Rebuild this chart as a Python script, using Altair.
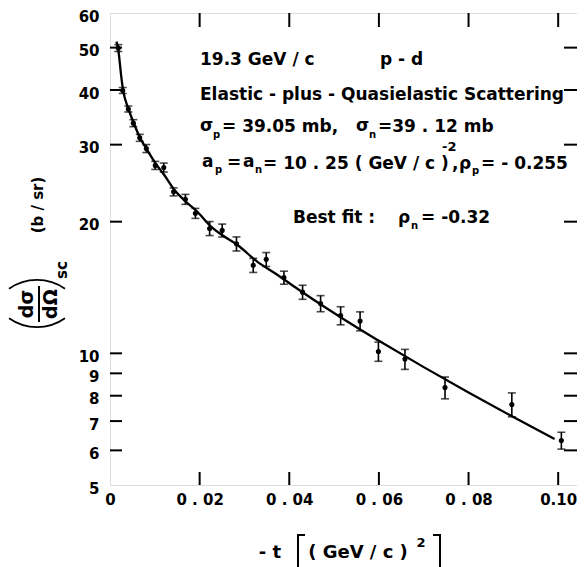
import altair as alt
import pandas as pd

# ---------------- data ----------------
t_data = [0.00185, 0.00284, 0.00409, 0.00521, 0.00664, 0.00811, 0.01010, 0.01200,
          0.01419, 0.01682, 0.01906, 0.02223, 0.02503, 0.02822, 0.03196, 0.03486,
          0.03881, 0.04297, 0.04699, 0.05146, 0.05580, 0.05989, 0.06581, 0.07475,
          0.08966, 0.10071]
xs_data = [49.9, 39.9, 36.2, 33.6, 31.1, 29.4, 26.9, 26.6, 23.4, 22.5, 20.9, 19.3,
           19.1, 17.8, 15.9, 16.4, 14.9, 13.8, 13.0, 12.2, 11.85, 10.1, 9.7, 8.35,
           7.64, 6.32]
err_data = [0.9, 0.63, 0.57, 0.62, 0.57, 0.62, 0.57, 0.63, 0.49, 0.59, 0.55, 0.71,
            0.65, 0.66, 0.59, 0.60, 0.51, 0.51, 0.55, 0.58, 0.59, 0.51, 0.51, 0.48,
            0.48, 0.28]

fit_t = [0.00145, 0.0019, 0.00246, 0.0029, 0.00402, 0.00536, 0.0067, 0.00827,
         0.01006, 0.01207, 0.0143, 0.01676, 0.01944, 0.02235, 0.02525, 0.02838,
         0.03285, 0.03732, 0.0418, 0.0485, 0.0559, 0.0600, 0.0700, 0.0800,
         0.0900, 0.0992]
fit_y = [51.6, 49.0, 43.4, 40.1, 36.45, 33.5, 31.1, 29.2, 27.3, 25.6, 23.7, 22.3,
         21.1, 19.57, 18.57, 17.71, 16.2, 15.12, 14.05, 12.64, 11.32, 10.68, 9.30,
         8.14, 7.15, 6.37]

x_tick_values = [0.0, 0.02, 0.04, 0.06, 0.08, 0.10]
y_tick_values = [5, 6, 7, 8, 9, 10, 20, 30, 40, 50, 60]
x_inner_ticks = [0.02, 0.04, 0.06, 0.08, 0.10]
y_inner_ticks = [6, 7, 8, 9, 10, 20, 30, 40, 50]

# ---------------- layout ----------------
W, H = 467, 472
PADL, PADT = 102, 5
OX, OY = 8 + PADL, 8 + PADT      # screen position of plot origin
FONT = "DejaVu Sans"

pts = pd.DataFrame({"t": t_data, "xs": xs_data, "err": err_data})
pts["lo"] = pts["xs"] - pts["err"]
pts["hi"] = pts["xs"] + pts["err"]
fit = pd.DataFrame({"t": fit_t, "xs": fit_y})

xscale = alt.Scale(domain=[0, 0.1042], nice=False, zero=False)
yscale = alt.Scale(type="log", domain=[5, 60], nice=False)

xaxis = alt.Axis(values=x_tick_values,
                 labelExpr="datum.value == 0 ? '0' : (datum.value > 0.09 ? '0.10' : "
                           "replace(format(datum.value, '.2f'), '.', ' . '))",
                 ticks=False, domain=False, grid=False, labelFont=FONT,
                 labelFontWeight="bold", labelFontSize=15, labelColor="black",
                 labelPadding=7, labelFlush=False, labelOverlap=False, title=None)
yaxis = alt.Axis(values=y_tick_values, format="d", ticks=False, domain=False,
                 grid=False, labelFont=FONT, labelFontWeight="bold", labelFontSize=15,
                 labelColor="black", labelPadding=11, labelOffset=3,
                 labelOverlap=False, title=None)

line = alt.Chart(fit).mark_line(color="black", strokeWidth=2.3, interpolate="monotone").encode(
    x=alt.X("t:Q", scale=xscale, axis=xaxis),
    y=alt.Y("xs:Q", scale=yscale, axis=yaxis),
)
bars = alt.Chart(pts).mark_errorbar(ticks=True, size=8, thickness=1.6, color="black").encode(
    x=alt.X("t:Q"), y=alt.Y("lo:Q"), y2="hi:Q"
)
dots = alt.Chart(pts).mark_point(filled=True, size=26, color="black", opacity=1).encode(
    x="t:Q", y="xs:Q"
)

ydf = pd.DataFrame({"v": y_inner_ticks})
xdf = pd.DataFrame({"v": x_inner_ticks})
tick_l = alt.Chart(ydf).mark_rule(color="black", strokeWidth=2).encode(
    y="v:Q", x=alt.value(0), x2=alt.value(12))
tick_r = alt.Chart(ydf).mark_rule(color="black", strokeWidth=2).encode(
    y="v:Q", x=alt.value(W - 13), x2=alt.value(W))
tick_b = alt.Chart(xdf).mark_rule(color="black", strokeWidth=2).encode(
    x="v:Q", y=alt.value(H - 13), y2=alt.value(H))
tick_t = alt.Chart(xdf).mark_rule(color="black", strokeWidth=2).encode(
    x="v:Q", y=alt.value(0), y2=alt.value(14))

one = pd.DataFrame({"d": [0]})


def txt(s, sx, sy, size=17, angle=0, align="left", weight="bold"):
    return alt.Chart(one).mark_text(
        text=s, font=FONT, fontSize=size, fontWeight=weight, align=align,
        baseline="middle", angle=angle, color="black"
    ).encode(x=alt.value(sx - OX), y=alt.value(sy - OY))


def seg(x1, y1, x2, y2, w=2):
    return alt.Chart(one).mark_rule(color="black", strokeWidth=w).encode(
        x=alt.value(x1 - OX), y=alt.value(y1 - OY),
        x2=alt.value(x2 - OX), y2=alt.value(y2 - OY))


def arc(cx, cy, r, th1, th2):
    return alt.Chart(one).mark_arc(color="black", radius=r, radius2=r - 1.8,
                                   theta=th1, theta2=th2).encode(
        x=alt.value(cx - OX), y=alt.value(cy - OY))


SUB = 10
notes = [
    txt("19.3  GeV / c", 200, 60),
    txt("p - d", 380, 60),
    txt("Elastic - plus - Quasielastic  Scattering", 200, 95),
    txt("σ", 200, 126), txt("p", 213, 135, SUB),
    txt("= 39.05  mb,", 222, 127),
    txt("σ", 356, 126), txt("n", 369, 135, SUB),
    txt("=39 . 12 mb", 378, 127),
    txt("a", 202, 162), txt("p", 215, 170, SUB),
    txt("=", 227, 163),
    txt("a", 243, 162), txt("n", 255, 170, SUB),
    txt("= 10 . 25 ( GeV / c )", 263, 164),
    txt("-2", 442, 147, 13),
    txt(",", 452, 164),
    txt("ρ", 459, 164), txt("p", 472, 171, SUB),
    txt("= - 0.255", 481, 164),
    txt("Best  fit :", 293, 218),
    txt("ρ", 398, 218), txt("n", 411, 226, SUB),
    txt("= -0.32", 421, 218),
    # y-axis title (rotated)
    txt("dσ", 27, 304, 19, angle=270, align="center"),
    txt("dΩ", 51, 304, 19, angle=270, align="center"),
    seg(39, 286, 39, 322),
    arc(37, 328.6, 49.6, 6.283 - 0.612, 6.283 + 0.612),
    arc(37, 278.4, 49.6, 3.1416 - 0.612, 3.1416 + 0.612),
    txt("sc", 62, 270, 15, angle=270, align="center"),
    txt("(b / sr)", 38, 205, 15, angle=270, align="center"),
    # x-axis title
    txt("- t", 270, 553, 18, align="center"),
    seg(298, 535, 298, 572), seg(297, 535, 305, 535),
    txt("( GeV / c )", 358, 553, 18, align="center"),
    txt("2", 421, 543, 13, align="center"),
    seg(440, 535, 440, 572), seg(433, 535, 441, 535),
]

chart = alt.layer(line, bars, dots, tick_l, tick_r, tick_b, tick_t, *notes).properties(
    width=W, height=H, autosize="none",
    padding={"left": PADL, "top": PADT, "right": 0, "bottom": 82},
).configure_view(stroke="black", strokeWidth=2).configure(background="white")

chart.save("out.html", embed_options={"renderer": "svg", "actions": False})
